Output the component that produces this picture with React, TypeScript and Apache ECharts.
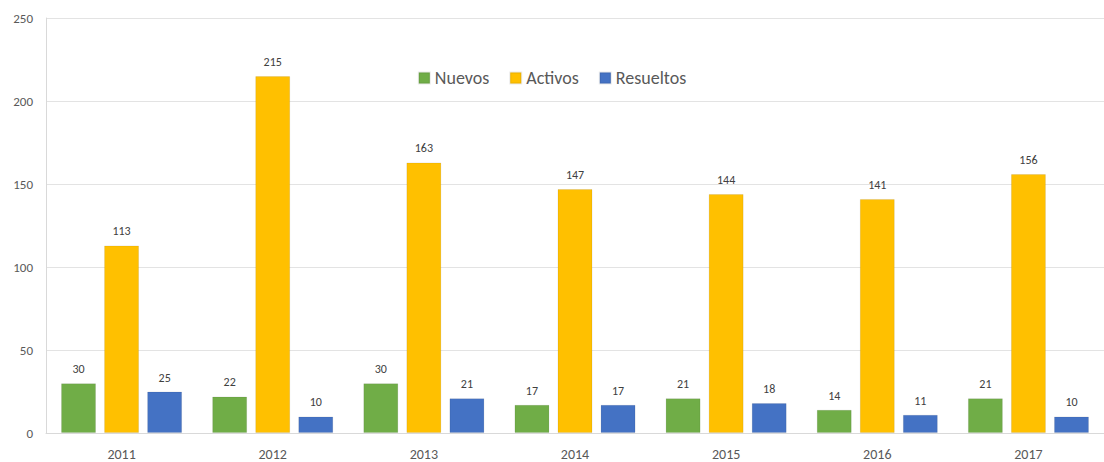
import React, { useEffect, useRef } from "react";
import * as echarts from "echarts";

const categories = ["2011", "2012", "2013", "2014", "2015", "2016", "2017"];
const nuevos = [30, 22, 30, 17, 21, 14, 21];
const activos = [113, 215, 163, 147, 144, 141, 156];
const resueltos = [25, 10, 21, 17, 18, 11, 10];
const seriesNames = ["Nuevos", "Activos", "Resueltos"];
const colors = ["#70AD47", "#FFC000", "#4472C4"];

export default function App() {
  const ref = useRef<HTMLDivElement>(null);
  useEffect(() => {
    if (!ref.current) return;
    const chart = echarts.init(ref.current, null, { renderer: "svg" });
    const font = "Carlito, Calibri, 'Open Sans', sans-serif";
    const datasets = [nuevos, activos, resueltos];
    chart.setOption({
      animation: false,
      textStyle: { fontFamily: font },
      legend: {
        data: seriesNames,
        top: 64,
        left: "center",
        itemWidth: 11,
        itemHeight: 11,
        itemGap: 20,
        icon: "rect",
        textStyle: { color: "#595959", fontSize: 18, fontFamily: font },
      },
      grid: { left: 46, top: 18, width: 1064, height: 415, containLabel: false },
      xAxis: {
        type: "category",
        data: categories,
        axisLine: { lineStyle: { color: "#d9d9d9" } },
        axisTick: { show: false },
        axisLabel: { color: "#595959", fontSize: 14, margin: 14, fontFamily: font },
      },
      yAxis: {
        type: "value",
        min: 0,
        max: 250,
        interval: 50,
        axisLine: { show: true, lineStyle: { color: "#d9d9d9" } },
        axisLabel: { color: "#595959", fontSize: 13, margin: 13, fontFamily: font },
        splitLine: { lineStyle: { color: "#e3e3e3" } },
      },
      series: datasets.map((d, i) => ({
        name: seriesNames[i],
        type: "bar",
        data: d,
        barWidth: 35,
        barGap: "23%",
        itemStyle: { color: colors[i], borderColor: "rgba(0,0,0,0.08)", borderWidth: 1 },
        label: {
          show: true,
          position: "top",
          distance: 8,
          color: "#404040",
          fontSize: 12,
          fontFamily: font,
        },
      })),
    });
    return () => chart.dispose();
  }, []);
  return (
    <div
      ref={ref}
      style={{ position: "fixed", left: 0, top: 0, width: 1104, height: 462, background: "#fff" }}
    />
  );
}
